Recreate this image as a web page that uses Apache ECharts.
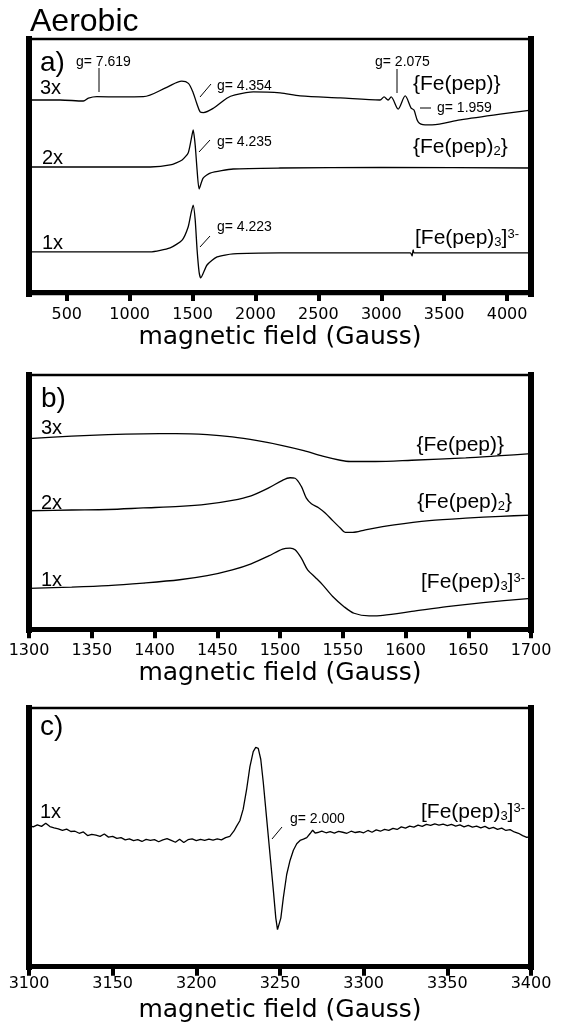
<!DOCTYPE html>
<html>
<head>
<meta charset="utf-8">
<script src="https://cdn.jsdelivr.net/npm/echarts@6/dist/echarts.min.js"></script>
<style>
  html, body { margin: 0; padding: 0; background: #fff; }
  #chart { width: 561px; height: 1030px; }
</style>
</head>
<body>
<div id="chart"></div>
<script>
// panel a) full sweep, field in Gauss, signal in arbitrary units (offset traces)
const aTicks = [500, 1000, 1500, 2000, 2500, 3000, 3500, 4000];
const a3Field = [200, 447, 632, 672, 739, 924, 1109, 1295, 1414, 1467, 1506, 1533, 1560, 1586, 1665, 1772, 1838, 1983, 2196, 2355, 2673, 2990, 3022, 3054, 3078, 3134, 3190, 3237, 3260, 3293, 3348, 3404, 3627, 3945, 4190];
const a3Signal = [76.2, 76.2, 75.8, 76.9, 77.5, 77.4, 77.5, 81.2, 83.7, 82.8, 78.9, 74.9, 71.5, 71.2, 72.9, 76.9, 78.2, 79.4, 79.0, 77.8, 77.0, 76.2, 77.4, 76.2, 77.4, 72.6, 77.8, 73.0, 72.2, 67.5, 66.3, 66.3, 68.3, 70.6, 72.2];
const a2Field = [200, 1163, 1322, 1417, 1465, 1488, 1505, 1521, 1536, 1552, 1584, 1640, 1823, 2196, 3000, 4190];
const a2Signal = [49.6, 49.6, 50.4, 52.4, 55.2, 60.3, 64.3, 58.3, 48.4, 40.9, 45.2, 47.2, 48.8, 49.2, 49.4, 49.2];
const a1Field = [200, 1163, 1322, 1417, 1465, 1488, 1505, 1521, 1536, 1552, 1565, 1615, 1695, 1823, 2196, 3232, 3245, 3253, 3261, 4190];
const a1Signal = [15.9, 15.9, 17.5, 20.6, 25.8, 31.3, 34.5, 28.6, 16.7, 7.9, 5.6, 10.7, 13.9, 15.1, 15.5, 15.5, 14.3, 16.7, 15.5, 15.5];

// panel b) zoom on the g = 4.3 region
const b3Field = [1300, 1334, 1363, 1391, 1417, 1442, 1462, 1482, 1502, 1519, 1534, 1548, 1556, 1576, 1605, 1648, 1676, 1700];
const b3Signal = [75.1, 76.1, 76.7, 77.0, 77.1, 76.7, 75.8, 74.3, 72.4, 70.4, 68.2, 66.6, 66.1, 66.1, 66.6, 67.5, 68.4, 69.2];
const b2Field = [1300, 1334, 1363, 1391, 1420, 1442, 1462, 1477, 1491, 1502, 1508, 1512, 1517, 1521, 1525, 1531, 1536, 1542, 1548, 1552, 1558, 1568, 1591, 1619, 1648, 1676, 1700];
const b2Signal = [46.7, 47.0, 47.2, 47.8, 48.4, 49.3, 50.8, 52.6, 55.7, 58.7, 59.7, 59.5, 56.3, 51.7, 49.5, 47.8, 45.8, 42.8, 39.9, 38.2, 38.2, 39.2, 41.1, 42.8, 43.8, 44.5, 45.0];
const b1Field = [1300, 1334, 1363, 1391, 1420, 1442, 1462, 1477, 1491, 1502, 1508, 1512, 1517, 1522, 1528, 1534, 1542, 1551, 1559, 1571, 1582, 1605, 1633, 1662, 1700];
const b1Signal = [16.1, 16.6, 17.2, 18.2, 19.5, 21.1, 23.4, 25.8, 28.9, 31.6, 32.0, 31.3, 28.0, 23.4, 20.5, 17.5, 12.9, 8.9, 6.3, 5.3, 5.5, 7.0, 8.9, 10.5, 12.2];

// panel c) g = 2.000 region
const cField = [3100, 3102.5, 3105, 3107.5, 3110, 3112.5, 3115, 3117.5, 3120, 3122.5, 3125, 3127.5, 3130, 3132.5, 3135, 3137.5, 3140, 3142.5, 3145, 3147.5,
  3150, 3152.5, 3155, 3157.5, 3160, 3162.5, 3165, 3167.5, 3170, 3172.5, 3175, 3177.5, 3180, 3182.5, 3185, 3187.5, 3190, 3192.5, 3195, 3197.5,
  3200, 3202.5, 3205, 3207.5, 3210, 3212.5, 3215, 3217.5, 3220, 3222.5,
  3224, 3226, 3228, 3230, 3232, 3234, 3235.5, 3237, 3238.5, 3240, 3242, 3244, 3246, 3247.5, 3248.5, 3249.5, 3250.5, 3252, 3254, 3256, 3258, 3260, 3262, 3264, 3266, 3268, 3269.5, 3271,
  3272.5, 3275, 3277.5, 3280, 3282.5, 3285, 3287.5, 3290, 3292.5, 3295, 3297.5, 3300, 3302.5, 3305, 3307.5, 3310, 3312.5, 3315, 3317.5, 3320,
  3322.5, 3325, 3327.5, 3330, 3332.5, 3335, 3337.5, 3340, 3342.5, 3345, 3347.5, 3350, 3352.5, 3355, 3357.5, 3360, 3362.5, 3365, 3367.5, 3370,
  3372.5, 3375, 3377.5, 3380, 3382.5, 3385, 3387.5, 3390, 3392.5, 3395, 3397.5, 3400];
const cSignal = [55.2, 54.6, 55.4, 54.8, 56.0, 54.7, 54.2, 53.8, 53.2, 53.7, 52.8, 52.9, 52.1, 52.6, 51.2, 51.7, 51.4, 50.9, 51.8, 50.6,
  50.9, 50.1, 50.4, 49.5, 49.9, 49.2, 49.6, 48.9, 49.7, 49.3, 49.6, 48.8, 49.5, 50.0, 49.3, 48.6, 49.8, 48.5, 49.6, 49.9,
  49.2, 49.7, 49.3, 49.8, 49.4, 49.9, 49.5, 50.4, 50.9, 53.0,
  54.8, 57.0, 61.5, 69.0, 78.0, 84.0, 85.6, 85.2, 81.0, 72.0, 58.0, 44.0, 30.0, 19.0, 14.5, 15.0, 19.0, 27.0, 36.0, 41.5, 45.5, 48.0, 49.3, 49.8, 50.4, 52.0, 53.3, 52.2,
  52.4, 52.9, 52.3, 52.7, 52.2, 52.8, 52.5, 52.1, 52.9, 52.4, 52.7, 52.3, 53.2, 52.5, 53.4, 52.9, 53.6, 53.2, 54.0, 53.6,
  54.6, 54.1, 54.9, 54.5, 55.3, 54.8, 55.6, 55.2, 55.8, 55.3, 55.7, 55.1, 55.6, 54.9, 55.4, 54.6, 55.2, 54.5, 54.9, 54.2,
  54.8, 53.9, 54.4, 53.6, 54.1, 53.2, 53.5, 52.6, 52.1, 51.2, 50.5, 50.9];

const zip = (xs, ys) => xs.map((x, i) => [x, ys[i]]);

const SANS = '"Liberation Sans", Arial, sans-serif';
const AXF = '"DejaVu Sans", Verdana, sans-serif';
const plain = v => String(v);

function xAxisFor(grid, min, max, margin, extra) {
  const ax = {
    type: 'value', gridIndex: grid, min: min, max: max,
    name: 'magnetic field (Gauss)', nameLocation: 'middle', nameGap: 31,
    nameTextStyle: { color: '#000', fontSize: 25, fontFamily: AXF },
    axisLine: { show: true, lineStyle: { color: '#000', width: 5 } },
    axisTick: { show: true, length: 9, lineStyle: { color: '#000', width: 4 } },
    axisLabel: { color: '#000', fontSize: 16, fontFamily: AXF, margin: margin, formatter: plain },
    splitLine: { show: false }
  };
  if (extra && extra.ticks) {
    ax.axisLabel.customValues = extra.ticks;
    ax.axisTick.customValues = extra.ticks;
  } else {
    ax.interval = 50;
  }
  return ax;
}
function yAxisFor(grid, min, max, pos) {
  return {
    type: 'value', gridIndex: grid, min: min, max: max, position: pos,
    axisLine: { show: true, onZero: false, lineStyle: { color: '#000', width: 6, cap: 'square' } },
    axisTick: { show: false }, axisLabel: { show: false }, splitLine: { show: false }
  };
}
function trace(i, data, smooth) {
  return {
    type: 'line', xAxisIndex: i, yAxisIndex: i * 2, data: data,
    showSymbol: false, smooth: smooth, silent: true,
    lineStyle: { color: '#000', width: 1.3 }
  };
}

function txt(x, y, text, size, align, rich) {
  return {
    type: 'text', x: x, y: y, silent: true,
    style: {
      text: text, fill: '#000', fontSize: size, fontFamily: SANS,
      align: align || 'left', verticalAlign: 'middle', rich: rich
    }
  };
}
function seg(x1, y1, x2, y2, w) {
  return { type: 'line', silent: true, shape: { x1: x1, y1: y1, x2: x2, y2: y2 },
    style: { stroke: '#000', lineWidth: w || 1 } };
}
const formRich = {
  s: { fontSize: 13, fontFamily: SANS, verticalAlign: 'bottom', padding: [6, 0, 0, 0] },
  p: { fontSize: 13, fontFamily: SANS, verticalAlign: 'top', padding: [0, 0, 6, 0] }
};

const chart = echarts.init(document.getElementById('chart'));
chart.setOption({
  animation: false,
  backgroundColor: '#fff',
  grid: [
    { left: 29, width: 502, top: 39, height: 255, show: true, borderColor: '#000', borderWidth: 2.5 },
    { left: 29, width: 502, top: 375, height: 255, show: true, borderColor: '#000', borderWidth: 2.5 },
    { left: 29, width: 502, top: 708, height: 259, show: true, borderColor: '#000', borderWidth: 2.5 }
  ],
  xAxis: [
    xAxisFor(0, 200, 4190, 13, { ticks: aTicks }),
    xAxisFor(1, 1300, 1700, 13),
    xAxisFor(2, 3100, 3400, 9)
  ],
  yAxis: [
    yAxisFor(0, -0.8, 100.4, 'left'), yAxisFor(0, -0.8, 100.4, 'right'),
    yAxisFor(1, -0.3, 100.2, 'left'), yAxisFor(1, -0.3, 100.2, 'right'),
    yAxisFor(2, -0.1, 101, 'left'), yAxisFor(2, -0.1, 101, 'right')
  ],
  series: [
    trace(0, zip(a3Field, a3Signal), 0.3),
    trace(0, zip(a2Field, a2Signal), 0.2),
    trace(0, zip(a1Field, a1Signal), 0.2),
    trace(1, zip(b3Field, b3Signal), 0.3),
    trace(1, zip(b2Field, b2Signal), 0.3),
    trace(1, zip(b1Field, b1Signal), 0.3),
    trace(2, zip(cField, cSignal), false)
  ],
  graphic: [
    txt(30, 22, 'Aerobic', 32),
    // panel a
    txt(40, 63, 'a)', 28),
    txt(76, 62, 'g= 7.619', 14),
    seg(99, 68, 99, 92),
    txt(40, 88, '3x', 20),
    txt(217, 86, 'g= 4.354', 14),
    seg(200, 97, 211, 84),
    txt(375, 62, 'g= 2.075', 14),
    seg(397, 69, 397, 93),
    txt(413, 84, '{Fe(pep)}', 21),
    seg(420, 108, 431, 108),
    txt(437, 108, 'g= 1.959', 14),
    txt(42, 158, '2x', 20),
    txt(217, 142, 'g= 4.235', 14),
    seg(199, 152, 210, 140),
    txt(413, 147, '{Fe(pep){s|2}}', 21, 'left', formRich),
    txt(42, 243, '1x', 20),
    txt(217, 227, 'g= 4.223', 14),
    seg(200, 247, 210, 236),
    txt(415, 238, '[Fe(pep){s|3}]{p|3-}', 21, 'left', formRich),
    // panel b
    txt(41, 399, 'b)', 28),
    txt(41, 428, '3x', 20),
    txt(41, 503, '2x', 20),
    txt(41, 580, '1x', 20),
    txt(504, 445, '{Fe(pep)}', 21, 'right'),
    txt(512, 502, '{Fe(pep){s|2}}', 21, 'right', formRich),
    txt(525, 582, '[Fe(pep){s|3}]{p|3-}', 21, 'right', formRich),
    // panel c
    txt(40, 727, 'c)', 28),
    txt(40, 812, '1x', 20),
    txt(525, 812, '[Fe(pep){s|3}]{p|3-}', 21, 'right', formRich),
    txt(290, 819, 'g= 2.000', 14),
    seg(272, 839, 282, 827)
  ]
});
</script>
</body>
</html>
